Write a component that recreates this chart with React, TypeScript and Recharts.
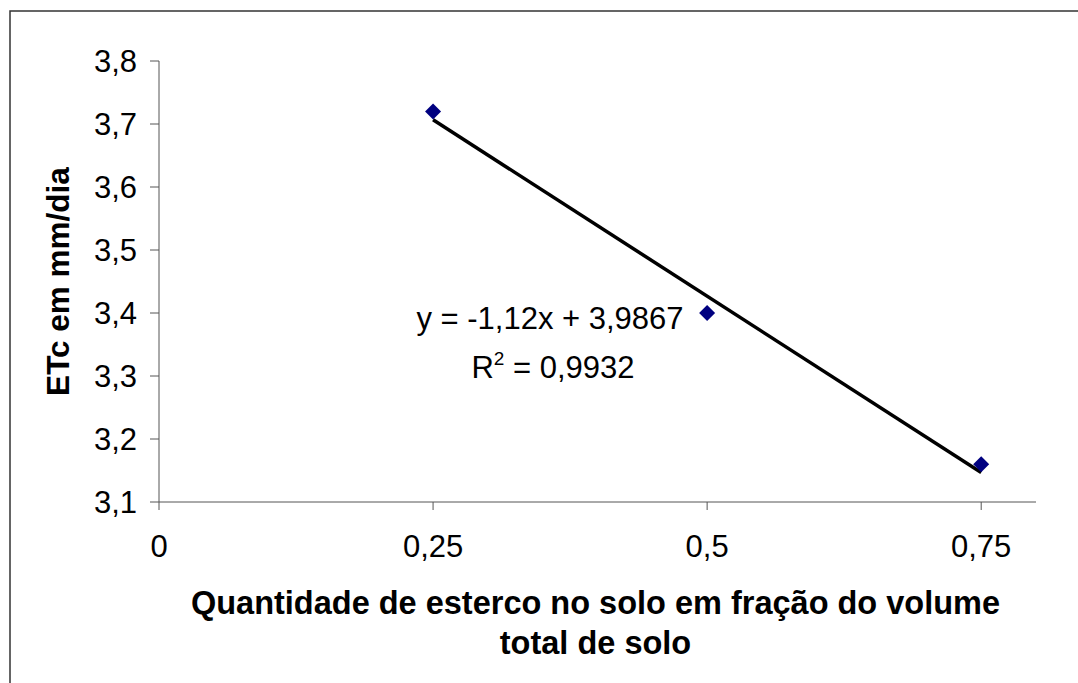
import { ScatterChart, Scatter, XAxis, YAxis, Customized } from 'recharts';

// quantity of manure (fraction of soil volume) vs ETc (mm/day)
const fractions = [0.25, 0.5, 0.75];
const etcValues = [3.72, 3.4, 3.16];

const xTicks = [0, 0.25, 0.5, 0.75];
const yTicks = [3.1, 3.2, 3.3, 3.4, 3.5, 3.6, 3.7, 3.8];

// trendline as printed on the chart
const trendSlope = -1.12;
const trendIntercept = 3.9867;
const trendX = [0.25, 0.75];

const points = fractions.map((x, i) => ({ x, y: etcValues[i] }));
const trend = trendX.map((x) => ({ x, y: trendSlope * x + trendIntercept }));

const FONT = '"Liberation Sans", Arial, sans-serif';
const FS = 31;
const fmt = (v: number) => String(v).replace('.', ',');

const Diamond = (props: any) => {
  const { cx, cy } = props;
  if (cx == null || cy == null) return null;
  const r = 8;
  return <path d={`M${cx},${cy - r}L${cx + r},${cy}L${cx},${cy + r}L${cx - r},${cy}Z`} fill="#000080" />;
};

const YTitle = (props: any) => {
  const vb = props.viewBox;
  const x = vb.x + 58;
  const y = vb.y + vb.height / 2;
  return (
    <text x={x} y={y} transform={`rotate(-90 ${x} ${y})`} textAnchor="middle" dominantBaseline="central"
      fontFamily={FONT} fontSize={31.5} fontWeight="bold" fill="#000">
      ETc em mm/dia
    </text>
  );
};

const XTitle = (props: any) => {
  const vb = props.viewBox;
  const x = vb.x + vb.width / 2 - 2;
  return (
    <text textAnchor="middle" fontFamily={FONT} fontSize={32.5} fontWeight="bold" fill="#000">
      <tspan x={x} y={vb.y + 112}>Quantidade de esterco no solo em fração do volume</tspan>
      <tspan x={x} y={vb.y + 152}>total de solo</tspan>
    </text>
  );
};

const Equation = () => (
  <g fontFamily={FONT} fontSize={FS} fill="#000">
    <text x={550} y={329} textAnchor="middle">y = -1,12x + 3,9867</text>
    <text x={553} y={378} textAnchor="middle">
      R<tspan fontSize={19} dy={-13}>2</tspan><tspan dy={13}> = 0,9932</tspan>
    </text>
  </g>
);

const Frame = () => <rect x={10} y={11} width={2000} height={2000} fill="none" stroke="#333" strokeWidth={1.5} />;

export default function App() {
  return (
    <div style={{ position: 'absolute', left: 0, top: 0, width: 1078, height: 683, background: '#fff' }}>
      <ScatterChart width={1078} height={683} margin={{ top: 61, right: 42, bottom: 0, left: 0 }}>
        <Customized component={Frame} />
        <XAxis
          type="number"
          dataKey="x"
          domain={[0, 0.8]}
          ticks={xTicks}
          tickFormatter={fmt}
          height={181}
          stroke="#555"
          tickSize={8}
          tickMargin={25}
          tick={{ fill: '#000', fontSize: FS, fontFamily: FONT }}
          allowDataOverflow
          label={{ content: XTitle }}
        />
        <YAxis
          type="number"
          dataKey="y"
          domain={[3.1, 3.8]}
          ticks={yTicks}
          tickFormatter={fmt}
          width={159}
          stroke="#555"
          tickSize={9}
          tickMargin={13}
          tick={{ fill: '#000', fontSize: FS, fontFamily: FONT }}
          allowDataOverflow
          label={{ content: YTitle }}
        />
        <Scatter data={trend} line={{ stroke: '#000', strokeWidth: 3.5 }} shape={() => null} isAnimationActive={false} />
        <Scatter data={points} shape={Diamond} isAnimationActive={false} />
        <Customized component={Equation} />
      </ScatterChart>
    </div>
  );
}
